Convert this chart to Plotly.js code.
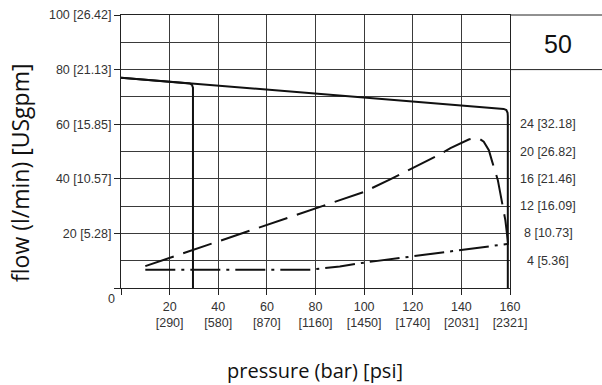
<!DOCTYPE html>
<html>
<head>
<meta charset="utf-8">
<script src="https://cdn.plot.ly/plotly-3.0.1.min.js"></script>
<style>html,body{margin:0;padding:0;background:#fff;}#chart{width:602px;height:385px;}</style>
</head>
<body>
<div id="chart"></div>
<script>
// ---- data ----
const xTickVals = [0, 20, 40, 60, 80, 100, 120, 140, 160];
const xTickBar = ['', '20', '40', '60', '80', '100', '120', '140', '160'];
const xTickPsi = ['', '[290]', '[580]', '[870]', '[1160]', '[1450]', '[1740]', '[2031]', '[2321]'];
const yTickVals = [0, 20, 40, 60, 80, 100];
const yTickText = ['', '20 [5.28]', '40 [10.57]', '60 [15.85]', '80 [21.13]', '100 [26.42]'];
const powerTickVals = [60, 50, 40, 30, 20, 10];
const powerTickText = ['24 [32.18]', '20 [26.82]', '16 [21.46]', '12 [16.09]', '8 [10.73]', '4 [5.36]'];
const sizeLabel = '50';
const originLabel = '0';
const xTitle = 'pressure (bar) [psi]';
const yTitle = 'flow (l/min) [USgpm]';

// solid flow curve
const flowX = [0, 157.4, 158.5, 159.0, 159.1, 159.1];
const flowY = [77.0, 65.6, 65.2, 64.2, 63.0, 0];
// solid branch at ~30 bar
const branchX = [0, 28.3, 29.2, 29.6, 29.6];
const branchY = [77.0, 74.9, 74.4, 73.4, 0];
// dashed curve
const dashX = [10, 100, 110.7, 125.9, 130, 135.5, 141, 143, 145, 147.5, 149.2, 151.3, 152.7, 155, 158.1, 159.2];
const dashY = [8, 35.2, 39.8, 46.6, 48.4, 51.2, 53.6, 54.4, 54.8, 54.6, 53.6, 50.5, 46.2, 39.5, 24.8, 16.5];
// dash-dot curve
const dotX = [10, 78, 90, 100, 120, 140, 159.5];
const dotY = [6.7, 6.7, 7.9, 9.3, 11.6, 13.8, 16.2];

// ---- layout ----
const L = 121, R = 92, T = 15, B = 97, W = 602, H = 385;
const pw = W - L - R, ph = H - T - B;
const px2x = p => (p - L) / pw;
const px2y = p => (H - B - p) / ph;

const tickFont = {family: 'Liberation Sans, Arial, sans-serif', size: 12.5, color: '#333'};
const gridCol = '#3a3a3a';

const xTickText = xTickVals.map((v, i) => xTickBar[i] ? xTickBar[i] + '<br>' + xTickPsi[i] : '');

const traces = [
  {x: flowX, y: flowY, mode: 'lines', line: {color: '#111', width: 2}, hoverinfo: 'skip'},
  {x: branchX, y: branchY, mode: 'lines', line: {color: '#111', width: 2}, hoverinfo: 'skip'},
  {x: dashX, y: dashY, mode: 'lines', line: {color: '#111', width: 2, dash: '30px,10px'}, hoverinfo: 'skip'},
  {x: dotX, y: dotY, mode: 'lines', line: {color: '#111', width: 2, dash: '30px,6px,3px,6px'}, hoverinfo: 'skip'}
];

const annotations = [];
powerTickVals.forEach((v, i) => {
  annotations.push({xref: 'paper', yref: 'y', x: px2x(548), y: v, text: powerTickText[i],
    showarrow: false, xanchor: 'center', yanchor: 'middle', font: tickFont});
});
annotations.push({xref: 'paper', yref: 'paper', x: px2x(558), y: px2y(44), text: sizeLabel,
  showarrow: false, xanchor: 'center', yanchor: 'middle',
  font: {family: 'Liberation Sans, Arial, sans-serif', size: 25, color: '#111'}});
annotations.push({xref: 'paper', yref: 'paper', x: px2x(111), y: px2y(299), text: originLabel,
  showarrow: false, xanchor: 'center', yanchor: 'middle', font: tickFont});
annotations.push({xref: 'paper', yref: 'paper', x: px2x(315), y: px2y(370), text: xTitle,
  showarrow: false, xanchor: 'center', yanchor: 'middle',
  font: {family: 'Open Sans, sans-serif', size: 20, color: '#111'}});
annotations.push({xref: 'paper', yref: 'paper', x: px2x(20), y: px2y(173), text: yTitle,
  showarrow: false, xanchor: 'center', yanchor: 'middle', textangle: -90,
  font: {family: 'Open Sans, sans-serif', size: 23, color: '#111'}});

const layout = {
  width: W, height: H,
  margin: {l: L, r: R, t: T, b: B, pad: 0},
  paper_bgcolor: '#fff', plot_bgcolor: '#fff',
  showlegend: false,
  xaxis: {
    range: [0, 160], tickmode: 'array', tickvals: xTickVals, ticktext: xTickText,
    ticks: 'outside', ticklen: 6, tickcolor: '#222', tickwidth: 1, ticklabelstandoff: 1,
    showgrid: true, gridcolor: gridCol, gridwidth: 1,
    showline: true, linecolor: '#222', linewidth: 1, mirror: true,
    zeroline: false, tickfont: tickFont, fixedrange: true
  },
  yaxis: {
    range: [0, 100], tickmode: 'array', tickvals: yTickVals, ticktext: yTickText,
    ticks: 'outside', ticklen: 6, tickcolor: '#222', tickwidth: 1,
    showgrid: true, gridcolor: gridCol, gridwidth: 1,
    minor: {dtick: 10, tick0: 0, showgrid: true, gridcolor: gridCol, gridwidth: 1, ticks: ''},
    showline: true, linecolor: '#222', linewidth: 1, mirror: true,
    zeroline: false, tickfont: tickFont, fixedrange: true
  },
  shapes: [
    {type: 'line', xref: 'paper', yref: 'paper', x0: 1, x1: px2x(W + 2), y0: 1, y1: 1, line: {color: '#222', width: 1}},
    {type: 'line', xref: 'paper', yref: 'paper', x0: 1, x1: px2x(W + 2), y0: 0.8, y1: 0.8, line: {color: '#222', width: 1}}
  ],
  annotations: annotations
};

Plotly.newPlot('chart', traces, layout, {staticPlot: true, displayModeBar: false});
</script>
</body>
</html>
